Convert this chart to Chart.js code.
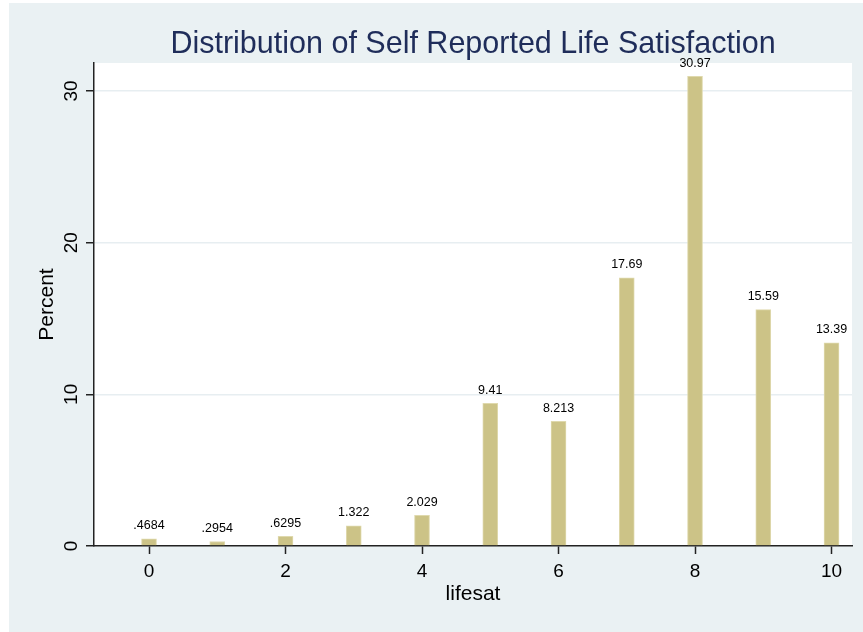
<!DOCTYPE html>
<html>
<head>
<meta charset="utf-8">
<script src="https://cdn.jsdelivr.net/npm/chart.js@4/dist/chart.umd.min.js"></script>
<style>
  body { margin: 0; background: #ffffff; }
  canvas { display: block; }
</style>
</head>
<body>
<canvas id="chart" width="863" height="632"></canvas>
<script>
const lifesat = [0, 1, 2, 3, 4, 5, 6, 7, 8, 9, 10]
const percent = [0.4684, 0.2954, 0.6295, 1.322, 2.029, 9.41, 8.213, 17.69, 30.97, 15.59, 13.39]
const xTicks = [0, 2, 4, 6, 8, 10]
const yTicks = [0, 10, 20, 30]

const titleText = 'Distribution of Self Reported Life Satisfaction'
const FONT = '"Liberation Sans", Arial, Helvetica, sans-serif'

// stata style: .4684 instead of 0.4684
const stataNum = v => String(v).replace(/^0\./, '.')

const stataLook = {
    id: 'stataLook',
    beforeDraw(chart) {
        const c = chart.ctx
        const a = chart.chartArea
        c.save()
        c.fillStyle = '#eaf1f3'
        c.fillRect(9, 3, chart.width - 9, chart.height - 3)
        c.fillStyle = '#ffffff'
        c.fillRect(a.left, a.top, a.right - a.left, a.bottom - a.top)
        c.restore()
    },
    afterDraw(chart) {
        const c = chart.ctx
        const a = chart.chartArea
        const xs = chart.scales.x
        const ys = chart.scales.y
        const mid = (a.left + a.right) / 2
        c.save()
        c.fillStyle = '#000'

        // x tick labels
        c.font = '19px ' + FONT
        c.textAlign = 'center'
        c.textBaseline = 'alphabetic'
        xTicks.forEach(t => c.fillText(String(t), xs.getPixelForValue(t), 577))

        // y tick labels, rotated
        yTicks.forEach(t => {
            c.save()
            c.translate(77, ys.getPixelForValue(t))
            c.rotate(-Math.PI / 2)
            c.fillText(String(t), 0, 0)
            c.restore()
        })

        // axis titles
        c.font = '21px ' + FONT
        c.fillText('lifesat', mid, 600)
        c.save()
        c.translate(53, (a.top + a.bottom) / 2)
        c.rotate(-Math.PI / 2)
        c.fillText('Percent', 0, 0)
        c.restore()

        // bar labels
        c.font = '12.5px ' + FONT
        const meta = chart.getDatasetMeta(0)
        meta.data.forEach((bar, i) => {
            c.fillText(stataNum(percent[i]), bar.x, bar.y - 9.5)
        })

        // title
        c.fillStyle = '#1f2d5a'
        c.font = '30.5px ' + FONT
        c.fillText(titleText, mid, 52.5)
        c.restore()
    }
}

new Chart(document.getElementById('chart'), {
    type: 'bar',
    data: {
        datasets: [{
            label: 'Percent',
            data: lifesat.map((v, i) => ({ x: v, y: percent[i] })),
            backgroundColor: '#ccc387',
            borderColor: '#dfd9ad',
            borderWidth: 1,
            barThickness: 15
        }]
    },
    options: {
        responsive: false,
        animation: false,
        layout: { padding: { left: 0, right: 11, top: 63, bottom: 0 } },
        plugins: {
            legend: { display: false },
            tooltip: { enabled: false },
            title: { display: false }
        },
        scales: {
            x: {
                type: 'linear',
                min: -0.806,
                max: 10.3,
                offset: false,
                ticks: { display: false, stepSize: 2, includeBounds: false },
                grid: { offset: false, drawOnChartArea: false, tickLength: 8, tickColor: '#222', tickWidth: 1.5 },
                border: { color: '#222', width: 1.5 },
                afterFit(scale) { scale.height = 86 }
            },
            y: {
                min: 0,
                max: 31.85,
                ticks: { display: false, stepSize: 10, includeBounds: false },
                grid: {
                    color: ctx => ctx.tick && ctx.tick.value === 0 ? 'rgba(0,0,0,0)' : '#e7eef1',
                    lineWidth: 1.5,
                    tickLength: 8,
                    tickColor: '#222',
                    tickWidth: 1.5
                },
                border: { color: '#222', width: 1.5 },
                afterFit(scale) { scale.width = 94 }
            }
        }
    },
    plugins: [stataLook]
})
</script>
</body>
</html>
